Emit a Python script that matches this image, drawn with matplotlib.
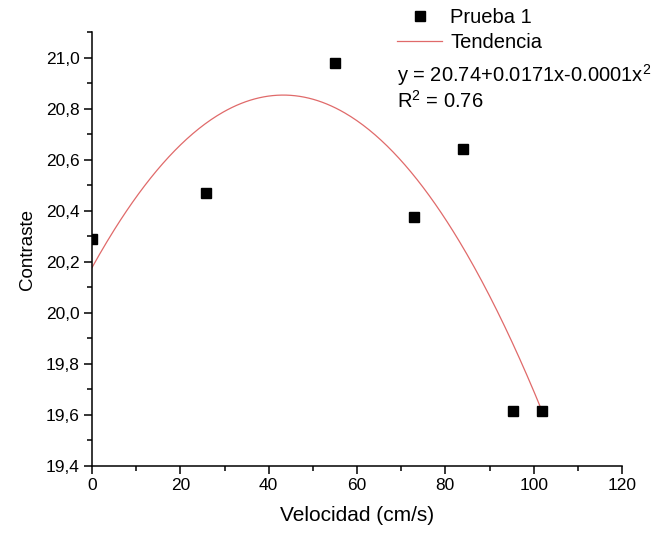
import matplotlib
matplotlib.use("Agg")
import matplotlib.pyplot as plt
import numpy as np
from matplotlib.ticker import MultipleLocator, FuncFormatter
from matplotlib.lines import Line2D

plt.rcParams['font.family'] = ['Liberation Sans', 'DejaVu Sans']
plt.rcParams['mathtext.default'] = 'regular'

# Data
velocidad = [0.0, 25.8, 55.0, 72.9, 83.9, 95.3, 101.9]
contraste = [20.29, 20.47, 20.98, 20.375, 20.64, 19.616, 19.616]

# Trend curve coefficients as drawn (a + b x + c x^2)
trend_a = 20.177
trend_b = 0.03122
trend_c = -0.0003605
trend_xmin, trend_xmax = 0.0, 101.9

eq_text = "y = 20.74+0.0171x-0.0001x$^2$"
r2_text = "R$^2$ = 0.76"

W, H = 660, 535
fig = plt.figure(figsize=(W / 100, H / 100), dpi=100)
ax = fig.add_axes([92 / W, 1 - 466 / H, 530 / W, 434 / H])

xt = np.linspace(trend_xmin, trend_xmax, 300)
yt = trend_a + trend_b * xt + trend_c * xt ** 2
ax.plot(xt, yt, color='#e06a6a', lw=0.9, label='Tendencia', zorder=2)
ax.plot(velocidad, contraste, 's', color='black', ms=6.5, label='Prueba 1', zorder=3)

ax.set_xlim(0, 120)
ax.set_ylim(19.4, 21.1)
ax.xaxis.set_major_locator(MultipleLocator(20))
ax.xaxis.set_minor_locator(MultipleLocator(10))
ax.yaxis.set_major_locator(MultipleLocator(0.2))
ax.yaxis.set_minor_locator(MultipleLocator(0.1))
ax.yaxis.set_major_formatter(FuncFormatter(lambda v, p: f"{v:.1f}".replace('.', ',')))

for s in ['top', 'right']:
    ax.spines[s].set_visible(False)
for s in ['left', 'bottom']:
    ax.spines[s].set_linewidth(1.1)
ax.tick_params(which='major', direction='out', length=6, width=1.1, labelsize=12.5,
               colors='black', pad=3)
ax.tick_params(which='minor', direction='out', length=3.5, width=1.1)

ax.set_xlabel('Velocidad (cm/s)', fontsize=15, labelpad=9)
ax.set_ylabel('Contraste', fontsize=13.5, labelpad=7)

handles = [Line2D([], [], marker='s', ls='none', color='black', ms=6.5),
           Line2D([], [], color='#e06a6a', lw=0.9)]
leg = fig.legend(handles, ['Prueba 1', 'Tendencia'], loc='upper left',
                 bbox_to_anchor=(393 / W, 1 - 4 / H), frameon=False,
                 fontsize=14.5, handlelength=2.24, handletextpad=0.4,
                 labelspacing=0.29, borderpad=0.2, borderaxespad=0)

fig.text(397 / W, 1 - 75 / H, eq_text, fontsize=14.5, va='center', ha='left')
fig.text(397 / W, 1 - 101 / H, r2_text, fontsize=14.5, va='center', ha='left')

fig.savefig('out.png', dpi=100)
